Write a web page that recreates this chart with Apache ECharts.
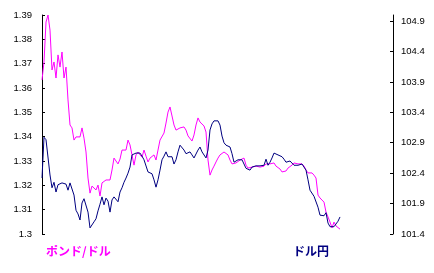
<!DOCTYPE html>
<html>
<head>
<meta charset="utf-8">
<script src="https://cdn.jsdelivr.net/npm/echarts@6/dist/echarts.min.js"></script>
<style>
html,body{margin:0;padding:0;background:#fff;}
#c{width:434px;height:273px;}
</style>
</head>
<body>
<div id="c"></div>
<script>
var seriesNames = ['ポンド/ドル', 'ドル円'];
var poundDollar = [
1.3633,1.3707,1.3871,1.3900,1.3838,1.3674,1.3707,1.3641,1.3736,1.3686,
1.3748,1.3641,1.3686,1.3551,1.3448,1.3436,1.3386,1.3399,1.3407,1.3399,
1.3436,1.3394,1.3337,1.3230,1.3168,1.3197,1.3201,1.3181,1.3201,1.3156,
1.3210,1.3218,1.3222,1.3218,1.3222,1.3263,1.3312,1.3300,1.3288,1.3308,
1.3345,1.3345,1.3345,1.3386,1.3366,1.3325,1.3283,1.3325,1.3337,1.3325,
1.3316,1.3345,1.3320,1.3296,1.3312,1.3304,1.3325,1.3304,1.3345,1.3386,
1.3390,1.3415,1.3456,1.3501,1.3522,1.3485,1.3448,1.3427,1.3419,1.3436,
1.3444,1.3440,1.3427,1.3403,1.3399,1.3382,1.3407,1.3448,1.3477,1.3460,
1.3468,1.3444,1.3419,1.3304,1.3242,1.3263,1.3279,1.3296,1.3312,1.3325,
1.3333,1.3337,1.3333,1.3325,1.3304,1.3288,1.3283,1.3292,1.3296,1.3304,
1.3296,1.3312,1.3283,1.3271,1.3263,1.3275,1.3271,1.3279,1.3275,1.3275,
1.3275,1.3279,1.3288,1.3283,1.3288,1.3283,1.3292,1.3279,1.3275,1.3267,
1.3255,1.3263,1.3259,1.3271,1.3275,1.3283,1.3292,1.3288,1.3288,1.3288,
1.3288,1.3279,1.3263,1.3251,1.3247,1.3251,1.3242,1.3230,1.3160,1.3148,
1.3156,1.3131,1.3090,1.3070,1.3049,1.3025,1.3049,1.3033,1.3025,1.3020
];
var dollarYen = [
102.32,102.99,102.95,102.98,102.37,102.16,102.25,102.09,102.21,102.22,
102.24,102.24,102.22,102.12,102.24,102.21,102.04,101.79,101.73,101.63,
101.91,101.98,101.96,101.76,101.50,101.52,101.60,101.65,101.78,101.89,
102.01,101.88,101.99,101.94,101.76,101.96,102.01,101.98,101.93,102.09,
102.16,102.25,102.32,102.40,102.50,102.70,102.67,102.73,102.70,102.73,
102.68,102.62,102.62,102.42,102.45,102.39,102.29,102.17,102.29,102.45,
102.62,102.68,102.75,102.67,102.65,102.67,102.55,102.62,102.75,102.86,
102.85,102.78,102.72,102.73,102.75,102.70,102.65,102.68,102.78,102.83,
102.75,102.72,102.65,102.78,103.11,103.21,103.26,103.26,103.26,103.19,
103.01,102.90,102.86,102.88,102.83,102.72,102.58,102.58,102.62,102.62,
102.62,102.55,102.48,102.48,102.45,102.50,102.52,102.52,102.52,102.52,
102.52,102.53,102.63,102.53,102.58,102.65,102.73,102.76,102.70,102.68,
102.67,102.63,102.58,102.57,102.60,102.58,102.53,102.53,102.53,102.53,
102.55,102.52,102.45,102.29,102.12,102.11,102.02,101.99,101.84,101.71,
101.68,101.70,101.75,101.58,101.52,101.53,101.52,101.55,101.61,101.68
];
var leftTicks = [1.3,1.31,1.32,1.33,1.34,1.35,1.36,1.37,1.38,1.39];
var rightTicks = [101.4,101.9,102.4,102.9,103.4,103.9,104.4,104.9];

function withIndex(arr){ return arr.map(function(v,i){ return [i, v]; }); }

var chart = echarts.init(document.getElementById('c'), null, {renderer:'canvas'});
var axisFont = {color:'#000', fontSize:9.5, fontFamily:'Liberation Sans, Arial, sans-serif'};
chart.setOption({
  animation:false,
  backgroundColor:'#fff',
  title:[
    {text:seriesNames[0], left:46, top:245, padding:0,
     textStyle:{color:'#FF00FF', fontSize:12, fontWeight:'bold', fontFamily:'Noto Sans CJK JP'}},
    {text:seriesNames[1], left:293, top:245, padding:0,
     textStyle:{color:'#000080', fontSize:12, fontWeight:'bold', fontFamily:'Noto Sans CJK JP'}}
  ],
  grid:{left:42, right:41, top:15, bottom:39},
  xAxis:{type:'value', min:0, max:175.5, show:false},
  yAxis:[
    {type:'value', position:'left', min:1.3, max:1.39,
     axisLine:{show:true, lineStyle:{color:'#000', width:1}},
     axisTick:{show:true, inside:true, length:3, lineStyle:{color:'#000'}, customValues:leftTicks},
     axisLabel:{show:true, margin:10, customValues:leftTicks, color:axisFont.color, fontSize:axisFont.fontSize, fontFamily:axisFont.fontFamily},
     splitLine:{show:false}},
    {type:'value', position:'right', min:101.4, max:105,
     axisLine:{show:true, lineStyle:{color:'#000', width:1}},
     axisTick:{show:true, inside:true, length:3, lineStyle:{color:'#000'}, customValues:rightTicks},
     axisLabel:{show:true, margin:8, customValues:rightTicks, color:axisFont.color, fontSize:axisFont.fontSize, fontFamily:axisFont.fontFamily},
     splitLine:{show:false}}
  ],
  series:[
    {name:seriesNames[0], type:'line', yAxisIndex:0, data:withIndex(poundDollar),
     showSymbol:false, lineStyle:{color:'#FF00FF', width:1}, itemStyle:{color:'#FF00FF'}},
    {name:seriesNames[1], type:'line', yAxisIndex:1, data:withIndex(dollarYen),
     showSymbol:false, lineStyle:{color:'#000080', width:1}, itemStyle:{color:'#000080'}}
  ]
});
</script>
</body>
</html>
